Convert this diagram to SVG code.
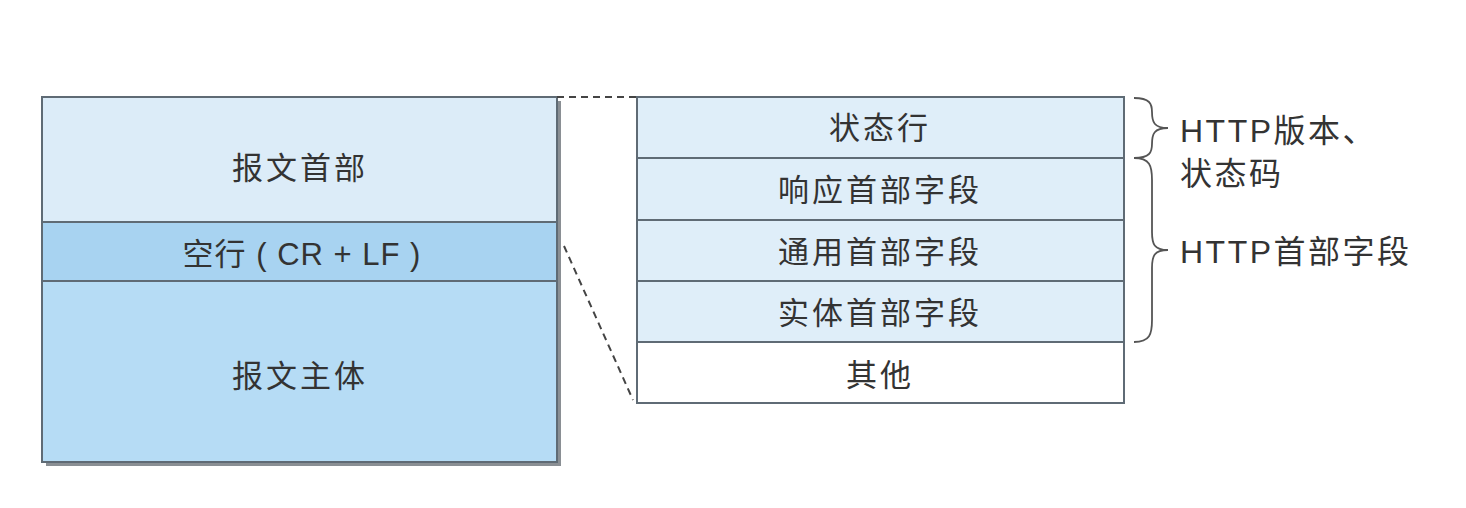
<svg xmlns="http://www.w3.org/2000/svg" width="1466" height="508" viewBox="0 0 1466 508">
<style>
.t{font-family:"Liberation Sans","Noto Sans CJK SC",sans-serif;font-size:31px;fill:#333;text-anchor:middle;dominant-baseline:central;letter-spacing:3px}
.l{font-family:"Liberation Sans","Noto Sans CJK SC",sans-serif;font-size:32px;fill:#333;letter-spacing:2.5px}
.b{stroke:#5f6b75;stroke-width:2}
.d{stroke:#444;stroke-width:2;stroke-dasharray:7 5;fill:none}
.br{stroke:#555;stroke-width:1.8;fill:none}
</style>
<rect width="1466" height="508" fill="#fff"/>
<g id="message">
<rect x="46" y="101" width="515" height="365" fill="#8a8f94"/>
<rect x="42" y="97" width="515" height="125" fill="#dcecf8" class="b"/>
<rect x="42" y="222" width="515" height="59" fill="#a8d3f1" class="b"/>
<rect x="42" y="281" width="515" height="181" fill="#b6dcf5" class="b"/>
<text class="t" x="300" y="168">报文首部</text>
<text class="t" x="302" y="254" style="letter-spacing:1px">空行 ( CR + LF )</text>
<text class="t" x="300" y="376">报文主体</text>
</g>
<g id="header">
<rect x="637" y="97" width="487" height="61" fill="#dfeef9" class="b"/>
<rect x="637" y="158" width="487" height="62" fill="#dfeef9" class="b"/>
<rect x="637" y="220" width="487" height="61" fill="#dfeef9" class="b"/>
<rect x="637" y="281" width="487" height="61" fill="#dfeef9" class="b"/>
<rect x="637" y="342" width="487" height="61" fill="#fff" class="b"/>
<text class="t" x="880" y="128">状态行</text>
<text class="t" x="880" y="190">响应首部字段</text>
<text class="t" x="880" y="252">通用首部字段</text>
<text class="t" x="880" y="313">实体首部字段</text>
<text class="t" x="880" y="375">其他</text>
</g>
<g id="connectors">
<path class="d" d="M557 97 H637"/>
<path class="d" d="M564 246 L633 400"/>
<path class="br" d="M1134 98 C1150 98 1152 104 1152 112 C1152 122 1154 128 1168 128 C1154 128 1152 134 1152 144 C1152 152 1150 158 1134 158"/>
<path class="br" d="M1134 158 C1150 158 1152 166 1152 180 L1152 232 C1152 244 1154 250 1168 250 C1154 250 1152 256 1152 268 L1152 320 C1152 334 1150 342 1134 342"/>
</g>
<g id="labels">
<text class="l" x="1180" y="142">HTTP版本、</text>
<text class="l" x="1180" y="185">状态码</text>
<text class="l" x="1180" y="263">HTTP首部字段</text>
</g>
</svg>
